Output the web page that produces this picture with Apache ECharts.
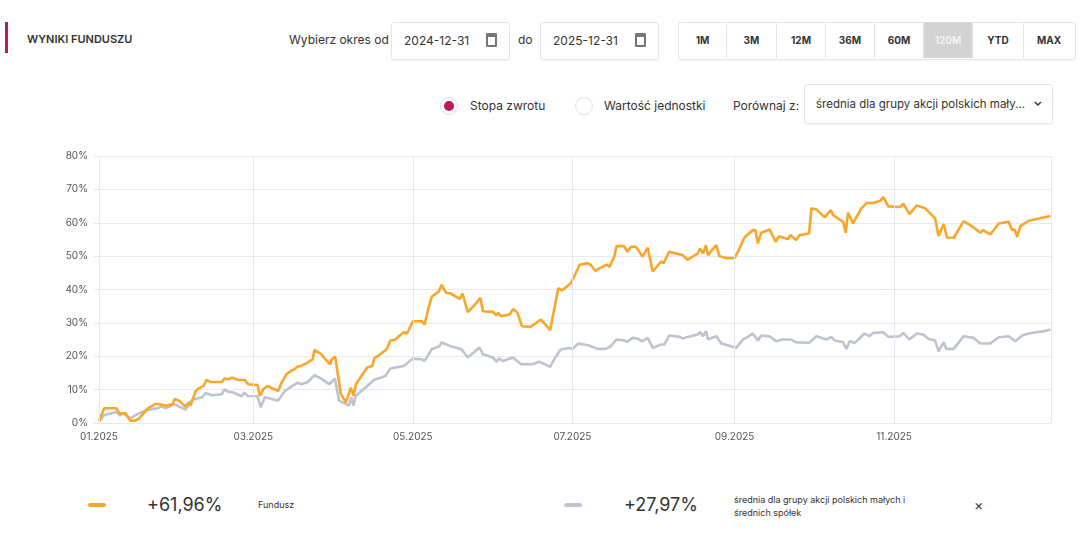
<!DOCTYPE html>
<html><head><meta charset="utf-8">
<script src="https://cdn.jsdelivr.net/npm/echarts@6/dist/echarts.min.js"></script>
<style>
body{margin:0;width:1083px;height:534px;background:#fff;font-family:Inter,"Noto Sans",sans-serif;color:#333;position:relative;overflow:hidden}
.abs{position:absolute}
.box{position:absolute;border:1px solid #e3e5ea;border-radius:3px;background:#fff;font-size:12px;box-shadow:0 1px 2px rgba(0,0,0,.05)}
.btn{position:absolute;top:22px;height:36px;line-height:36px;text-align:center;font-size:10px;font-weight:700;border-right:1px solid #e3e5ea;color:#333}
.cal{position:absolute;right:12px;top:10px;width:11px;height:14px;border:2px solid #777;border-top-width:4px;box-sizing:border-box;border-radius:1px}
.radio{position:absolute;width:18px;height:18px;border:1px solid #dde0e8;border-radius:50%;box-sizing:border-box}
</style></head><body>
<div class="abs" style="left:5px;top:22px;width:3px;height:31px;background:#c2185b"></div>
<div class="abs" style="left:27px;top:32px;font-size:11px;font-weight:600">WYNIKI FUNDUSZU</div>
<div class="abs" style="left:289px;top:32px;font-size:12px">Wybierz okres od</div>
<div class="box" style="left:391px;top:22px;width:117px;height:36px"><span class="abs" style="left:12px;top:10px">2024-12-31</span><div class="cal"></div></div>
<div class="abs" style="left:518px;top:32px;font-size:12px">do</div>
<div class="box" style="left:540px;top:22px;width:117px;height:36px"><span class="abs" style="left:12px;top:10px">2025-12-31</span><div class="cal"></div></div>
<div class="box" style="left:678px;top:22px;width:396px;height:36px"></div>
<div class="btn" style="left:679px;width:47px">1M</div>
<div class="btn" style="left:727px;width:49px">3M</div>
<div class="btn" style="left:777px;width:48px">12M</div>
<div class="btn" style="left:826px;width:48px">36M</div>
<div class="btn" style="left:875px;width:48px">60M</div>
<div class="btn" style="left:924px;width:48px;background:#d3d3d3;color:#f2f2f2">120M</div>
<div class="btn" style="left:973px;width:50px">YTD</div>
<div class="btn" style="left:1024px;width:50px;border-right:none">MAX</div>
<div class="radio" style="left:440px;top:97px;"><div class="abs" style="left:3px;top:3px;width:10px;height:10px;border-radius:50%;background:#c2185b"></div></div>
<div class="abs" style="left:470px;top:98px;font-size:12px">Stopa zwrotu</div>
<div class="radio" style="left:575px;top:97px;"></div>
<div class="abs" style="left:604px;top:98px;font-size:12px">Wartość jednostki</div>
<div class="abs" style="left:733px;top:98px;font-size:12px">Porównaj z:</div>
<div class="box" style="left:804px;top:84px;width:247px;height:38px"><span class="abs" style="left:11px;top:12px;font-size:11.5px">średnia dla grupy akcji polskich mały...</span><span class="abs" style="left:228px;top:9px;font-size:12px;font-weight:700">&#8964;</span></div>
<div id="c" class="abs" style="left:0;top:140px;width:1083px;height:310px"></div>
<div class="abs" style="left:88px;top:503px;width:18px;height:4px;background:#f9a62a;border-radius:2px"></div>
<div class="abs" style="left:147px;top:494px;font-size:18px">+61,96%</div>
<div class="abs" style="left:258px;top:499px;font-size:9px">Fundusz</div>
<div class="abs" style="left:564px;top:503px;width:18px;height:4px;background:#c0c4d2;border-radius:2px"></div>
<div class="abs" style="left:624px;top:494px;font-size:18px">+27,97%</div>
<div class="abs" style="left:734px;top:493px;font-size:9px;line-height:13px">średnia dla grupy akcji polskich małych i<br>średnich spółek</div>
<div class="abs" style="left:974px;top:496px;font-size:14px">&#215;</div>
<script>
const tickDays=[0,59,120,181,243,304];
const tickLabels=['01.2025','03.2025','05.2025','07.2025','09.2025','11.2025'];
const fundDays=[0,2,6.6,8,10,12,14,15.4,18.6,20.5,21.7,23,25.5,28,29,30.6,33,34.4,35,37,38,40,41,42.6,47,48,49.5,50.8,53.3,55.8,57,60.6,61.5,62.8,64.4,68.5,69.7,71.6,73.5,74.8,76,77.3,79.8,81.7,82.4,85,86,88.4,89,90.3,92.5,94.4,96.3,97.3,98.2,102.6,104.5,105.4,106.4,110,111.4,113.3,116.5,117.8,120,123.4,124.5,126,127.2,130,131,132.7,134.4,138,139,141,144,145.8,146.8,150.6,151.9,152.6,153.7,157,158.4,160,161.7,165,169,172.5,175.6,177,180.4,182,183.8,186.8,188,189.7,193.8,195.3,197,197.9,200.8,202,203.4,205.3,207.8,209.8,211.7,214.9,215.9,218,223.2,225,228.9,229.8,230.9,232.1,232.8,236,237.2,239.8,243,244.3,246.8,250,251,251.9,253.2,256.4,258.7,260,263.5,264.3,266.6,267.9,271.5,272.4,274.3,277.5,279.8,280.7,284.5,285.5,286.4,288.3,291.5,293.5,296,298.6,299.9,301.8,306.3,307.5,309.9,312.7,315.9,319.7,321,323,324.2,326.8,330.6,334.4,337,338,340.8,344,347.8,349.1,350.1,351,352.3,355.5,363.8];
const fundVals=[0.7,4.4,4.4,2.7,3,0.7,0.7,1.4,4.4,5.2,5.7,5.7,5.2,5.5,7.2,6.7,4.9,6.2,5.2,9.6,10.3,11.1,12.9,12.3,12.3,13.3,13.1,13.6,12.9,12.9,11.6,11.4,8.1,10.1,11.1,9.6,11.9,14.6,15.6,16.1,16.9,17.1,18.1,19.1,21.9,20.6,19.6,17.6,19.1,19.9,8.6,6.2,10.6,8.1,11.6,16.6,17.1,19.6,19.9,22.1,24.7,25,27.2,26.8,30.5,30.5,29.5,34.5,37.8,39.5,41.4,39,38.8,37.2,38.8,33.2,35.7,37.5,33.5,33.3,32.3,33,32,32.5,34.2,33,29,28.8,31,27.8,40.4,39.7,41.9,44.4,47.4,47.9,47.4,45.6,47.4,46.9,49.9,53,53,51.3,52.8,52.8,49.9,52.5,45.4,48.4,47.9,51.3,50.3,48.9,50.8,52.3,50.8,53.3,50.3,53.3,50,49.4,49.4,51.3,55.6,57.8,57.8,53.8,57,58,54.3,55.9,55.1,56.3,54.8,56.3,56.8,64.3,64,61.6,63.8,62.3,60.3,57,63,59.8,64.3,65.9,65.9,66.5,67.7,64.9,64.7,65.7,62.6,65.2,64.3,61.3,56,59.6,55.6,55.5,60.5,58.6,57,57.8,56.5,59.8,60.3,57.8,58,55.8,59,60.6,62];
const benchDays=[0,2,5.3,6.8,8,9,12,14.8,16.7,20.5,22.4,23.6,25.5,28.7,33,35.6,39.4,40.7,43.2,47,47.9,49.5,50.8,54.6,55.6,57,60.6,61.8,63.4,68.5,71,73.5,76,77.3,79.8,82.4,85,88,90.2,91.8,95.6,96.5,97.3,98.2,102.6,105.1,109.5,111.4,116.5,117.8,120,123.4,124.5,127.2,130,131,134.2,138.6,141,145.5,146.8,150.6,152.1,152.8,154.4,158.2,161.4,165.8,168.3,172.5,174,176.5,179.7,181,183.3,187.4,190.6,193.8,195.7,197.9,200.8,202,204,205.9,207.8,209.8,211.7,214.9,216.2,218,222,223.2,225,228.9,229.8,230.9,232.1,232.8,236,237.9,240.4,243.6,246.2,250,251.9,253.2,256.4,258.9,261.4,264.6,266.6,271.5,274.3,278.2,280,281.3,284.5,285.8,287,289,292.7,294.6,296,299.9,301.8,306.3,307.5,309.9,312.7,315.2,317.1,319.7,321,323,324,326.8,330.6,334.4,337,340.8,344,347.8,350.4,353,355.5,361.2,363.8];
const benchVals=[0.4,2.4,3,3.4,2.2,3,1.4,2.7,3.4,4.2,4.4,5,4.4,5.7,4,7,7.7,9,8.3,8.6,10.1,9.3,9.3,8,9.1,8.1,8,4.7,7.7,6.7,9.6,10.9,12.1,11.6,12.3,14.3,13.3,11.6,13.3,6.7,5.2,7.7,5.2,8.2,11.1,12.9,14.1,16.3,17.1,17.9,19.3,19.1,18.6,22.1,22.9,24.1,23.1,22.1,19.6,22.6,20.6,19.6,18.3,19.3,18.6,19.6,17.6,17.6,18.4,16.8,19,22,22.5,22.2,23.8,23.2,22.2,22.2,23,25,24.7,24.3,25.5,25.3,24.5,25.5,22.5,23.5,23.5,26.2,25.8,25.3,25.8,26.5,27.3,26,27.5,25,26,23.8,23.3,22.5,25,26.8,24.7,26.2,26,24.5,25,25,24.2,24,26,25,25.8,24.7,24.2,22.2,24.5,24,26.8,26,27,27.2,25.8,26,27,25,26.8,26.5,25.2,24.7,21.5,24.2,22.2,22.2,26,25.5,23.8,23.8,25.7,26,24.5,26.2,26.8,27.5,28];
const zip=(a,b)=>a.map((d,i)=>[d,b[i]]);
const chart=echarts.init(document.getElementById('c'));
const gridCol='#e6e9f1';
chart.setOption({
 animation:false,
 grid:{left:99,right:32,top:16,bottom:27},
 xAxis:{type:'value',min:0,max:364,
  axisLine:{show:true,lineStyle:{color:gridCol}},axisTick:{show:false,customValues:tickDays},
  splitLine:{show:false},
  axisLabel:{customValues:tickDays,formatter:v=>tickLabels[tickDays.indexOf(v)]||'',color:'#555',fontSize:10,margin:9,fontFamily:'Inter'}},
 yAxis:{type:'value',min:0,max:80,interval:10,
  axisLabel:{formatter:'{value}%',color:'#555',fontSize:10,margin:11,fontFamily:'Inter'},
  splitLine:{lineStyle:{color:gridCol}},axisLine:{show:true,lineStyle:{color:gridCol}}},
 series:[
  {type:'line',data:zip(benchDays,benchVals),showSymbol:false,lineStyle:{color:'#bfc3d0',width:2.6},z:2,
   markLine:{silent:true,symbol:'none',label:{show:false},lineStyle:{color:gridCol,type:'solid',width:1},data:tickDays.concat([364]).map(d=>({xAxis:d}))}},
  {type:'line',data:zip(fundDays,fundVals),showSymbol:false,lineStyle:{color:'#f9a62a',width:2.6},z:3}
 ]
});
</script>
</body></html>
